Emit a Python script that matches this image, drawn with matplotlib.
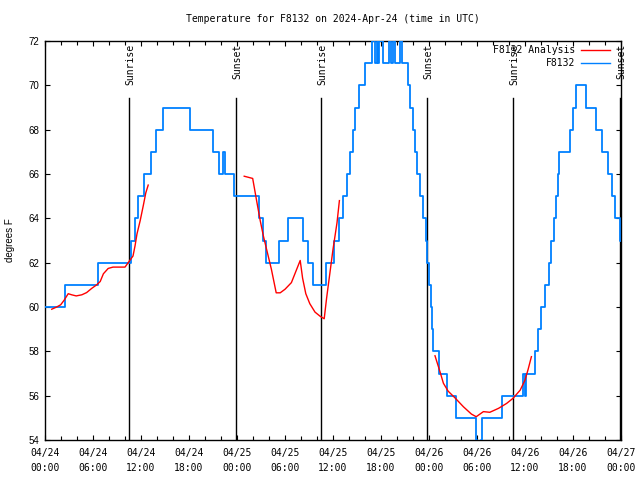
import matplotlib
matplotlib.use("Agg")
import matplotlib.pyplot as plt
from matplotlib.lines import Line2D
from matplotlib.ticker import MultipleLocator

# ---- data (x in hours since 04/24 00:00 UTC) ----
obs_hours = [0.0, 2.5, 6.6, 10.7, 11.3, 11.6, 12.4, 13.2, 13.85, 14.7, 18.1, 21.0, 21.8,
             22.3, 22.45, 23.6, 26.7, 27.2, 27.6, 29.3, 30.4, 32.3, 32.9, 33.5, 35.1,
             36.1, 36.7, 37.3, 37.7, 38.1, 38.5, 38.75, 39.2, 40.0,
             40.9, 41.2, 41.5, 41.65, 41.8, 42.2, 43.0, 43.25, 43.5, 43.75, 44.4, 44.6,
             45.4, 45.6, 46.0, 46.2, 46.5, 46.9, 47.3, 47.6, 47.8, 48.0, 48.2, 48.35, 48.5,
             49.2, 50.2, 51.4, 53.9, 54.0, 54.5, 54.6, 57.1, 59.8, 59.95, 60.1,
             61.2, 61.6, 62.0, 62.5, 63.0, 63.3, 63.6, 63.9, 64.1, 64.3, 65.6, 66.0, 66.4,
             67.6, 68.9, 69.6, 70.4, 70.9, 71.3, 71.9, 72.0]
obs_temps = [60, 61, 62, 63, 64, 65, 66, 67, 68, 69, 68, 67, 66,
             67, 66, 65, 64, 63, 62, 63, 64, 63, 62, 61, 62,
             63, 64, 65, 66, 67, 68, 69, 70, 71,
             72, 71, 72, 71, 72, 71, 72, 71, 72, 71, 72, 71,
             70, 69, 68, 67, 66, 65, 64, 63, 62, 61, 60, 59, 58,
             57, 56, 55, 54, 53, 54, 55, 56, 57, 56, 57,
             58, 59, 60, 61, 62, 63, 64, 65, 66, 67, 68, 69, 70,
             69, 68, 67, 66, 65, 64, 63, 63]

ana1_hours = [0.84, 1.46, 1.96, 2.38, 2.9, 3.34, 3.9, 4.6, 5.2, 5.84, 6.46, 6.9, 7.3, 7.9,
              8.5, 10.0, 10.3, 10.6, 11.0, 11.25, 11.5, 11.9, 12.3, 12.6, 12.9]
ana1_temps = [59.9, 60.0, 60.1, 60.3, 60.6, 60.55, 60.5, 60.55, 60.65, 60.84, 61.0, 61.15,
              61.5, 61.74, 61.8, 61.8, 61.95, 62.1, 62.3, 62.75, 63.3, 63.9, 64.6, 65.15, 65.5]
ana2_hours = [24.9, 25.96, 26.5, 26.9, 27.3, 27.7, 28.3, 28.9, 29.4, 30.0, 30.8, 31.9, 32.2,
              32.6, 33.1, 33.75, 34.4, 34.9, 35.2, 35.6, 36.0, 36.5, 36.8]
ana2_temps = [65.9, 65.8, 64.7, 63.9, 63.2, 62.6, 61.7, 60.64, 60.64, 60.8, 61.1, 62.1, 61.3,
              60.6, 60.15, 59.77, 59.58, 59.47, 60.4, 61.5, 62.6, 63.8, 64.8]
ana3_hours = [48.75, 49.4, 49.8, 50.4, 51.25, 52.3, 53.3, 53.9, 54.8, 55.6, 56.7, 57.7,
              58.5, 59.4, 60.0, 60.4, 60.8]
ana3_temps = [57.8, 57.05, 56.56, 56.2, 55.9, 55.5, 55.17, 55.05, 55.28, 55.25, 55.43,
              55.65, 55.88, 56.25, 56.7, 57.2, 57.76]

sun_hours = [10.54, 23.85, 34.5, 47.8, 58.55, 71.9]
sun_labels = ["Sunrise", "Sunset", "Sunrise", "Sunset", "Sunrise", "Sunset"]

xtick_labels = ["04/24\n00:00", "04/24\n06:00", "04/24\n12:00", "04/24\n18:00",
                "04/25\n00:00", "04/25\n06:00", "04/25\n12:00", "04/25\n18:00",
                "04/26\n00:00", "04/26\n06:00", "04/26\n12:00", "04/26\n18:00",
                "04/27\n00:00"]
ytick_values = [54, 56, 58, 60, 62, 64, 66, 68, 70, 72]

RED = "#ff0000"
BLUE = "#0080ff"
MONO = "DejaVu Sans Mono"
SANS = "Liberation Sans"

fig = plt.figure(figsize=(6.4, 4.8), dpi=100)
ax = fig.add_axes([45 / 640, 40 / 480, 576 / 640, 399 / 480])

ax.plot(obs_hours, obs_temps, drawstyle="steps-post", color=BLUE, lw=1.3, zorder=3)
for hh, tt in [(ana1_hours, ana1_temps), (ana2_hours, ana2_temps), (ana3_hours, ana3_temps)]:
    ax.plot(hh, tt, color=RED, lw=1.0, zorder=4)

for h, lab in zip(sun_hours, sun_labels):
    ax.axvline(h, ymin=0, ymax=(440 - 98) / 399, color="black", lw=1.0, zorder=2)
    ax.text(h + 0.15, 0.992, lab, transform=ax.get_xaxis_transform(), rotation=90,
            ha="center", va="top", fontsize=7, family=MONO)

ax.set_xlim(0, 72)
ax.set_ylim(54, 72)
ax.set_xticks(range(0, 73, 6))
ax.set_xticklabels(xtick_labels, family=MONO, fontsize=7, linespacing=1.6)
ax.xaxis.set_minor_locator(MultipleLocator(2))
ax.set_yticks(ytick_values)
ax.set_yticklabels([str(v) for v in ytick_values], family=SANS, fontsize=7)
ax.tick_params(axis="both", which="both", direction="in", top=True, right=True)
ax.tick_params(axis="both", which="major", length=3.5, width=0.8)
ax.tick_params(axis="x", which="minor", length=3, width=0.8)
ax.tick_params(axis="x", which="major", pad=6)
ax.tick_params(axis="y", which="major", pad=4)
for s in ax.spines.values():
    s.set_linewidth(1.0)

ax.set_ylabel("degrees F", family=SANS, fontsize=7, labelpad=10)
ax.set_title("Temperature for F8132 on 2024-Apr-24 (time in UTC)", family=MONO,
             fontsize=7, pad=14)

# legend (top right, gnuplot style)
leg_items = [("F8132 Analysis", RED, 50), ("F8132", BLUE, 63)]
for lab, col, ypx in leg_items:
    fig.text(575 / 640, 1 - ypx / 480, lab, ha="right", va="center", family=MONO, fontsize=7)
    fig.add_artist(Line2D([581 / 640, 610 / 640], [1 - ypx / 480, 1 - ypx / 480],
                          color=col, lw=1.0, transform=fig.transFigure))

fig.savefig("out.png", dpi=100)
